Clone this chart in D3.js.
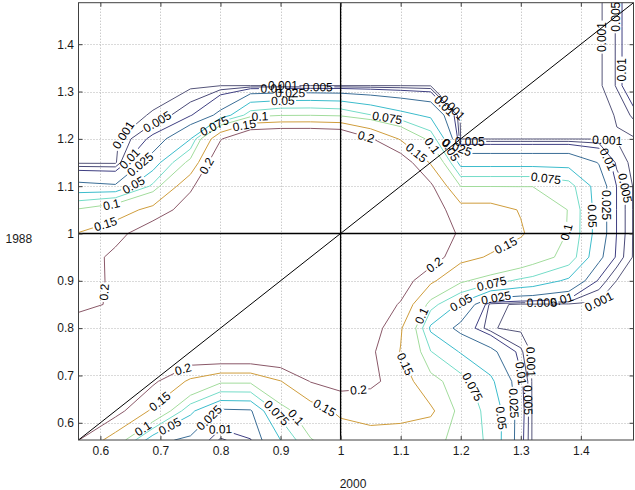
<!DOCTYPE html>
<html lang="en">
<head>
<meta charset="utf-8">
<title>Contours 2000 vs 1988</title>
<script src="https://d3js.org/d3.v7.min.js"></script>
<style>
  body { margin: 0; background: #fff; }
  svg { display: block; font-family: "Liberation Sans", Arial, sans-serif; }
</style>
</head>
<body>
<script>

// page + plot box
const width = 635;
const height = 490;
const plot = {left: 78.5, right: 633.5, top: 2.7, bottom: 440};

// contour levels and their line colours
const levels = [0.001, 0.005, 0.01, 0.025, 0.05, 0.075, 0.1, 0.15, 0.2];
const levelColors = ["#55557a", "#4a4a78", "#3f3f82", "#3a6d96", "#3cbccc", "#74dcc8", "#a2dc9c", "#cf9d3c", "#8a5868"];

// ticks
const xTicks = [0.6, 0.7, 0.8, 0.9, 1.0, 1.1, 1.2, 1.3, 1.4];
const xTickLabels = ["0.6", "0.7", "0.8", "0.9", "1", "1.1", "1.2", "1.3", "1.4"];
const yTicks = [0.6, 0.7, 0.8, 0.9, 1.0, 1.1, 1.2, 1.3, 1.4];
const yTickLabels = ["0.6", "0.7", "0.8", "0.9", "1", "1.1", "1.2", "1.3", "1.4"];

// grid nodes (x = 2000, y = 1988)
const xNodes = [0.5636, 0.625, 0.6875, 0.75, 0.8, 0.85, 0.9, 0.95, 1.0, 1.05, 1.1, 1.15, 1.2, 1.25, 1.3, 1.32, 1.38, 1.43, 1.46, 1.4877];
const yNodes = [0.5636, 0.625, 0.6875, 0.75, 0.8, 0.85, 0.9, 0.95, 1.0, 1.05, 1.1, 1.15, 1.2, 1.25, 1.3125, 1.375, 1.4375, 1.4877];

// estimated surface values, one row per y node (bottom row first)
const grid = [
  [0.201, 0.125, 0.032, 0.02, 0.004, 0.0095, 0.05, 0.098, 0.12, 0.13, 0.13, 0.11, 0.09, 0.07, 0.013, 0, 0, 0, 0, 0],
  [0.23, 0.22, 0.14, 0.055, 0.02, 0.022, 0.085, 0.125, 0.16, 0.17, 0.165, 0.16, 0.085, 0.07, 0.014, 0, 0, 0, 0, 0],
  [0.25, 0.24, 0.21, 0.14, 0.105, 0.105, 0.148, 0.202, 0.22, 0.21, 0.18, 0.11, 0.085, 0.055, 0.012, 0, 0, 0, 0, 0],
  [0.25, 0.25, 0.26, 0.25, 0.265, 0.265, 0.26, 0.26, 0.25, 0.21, 0.148, 0.076, 0.048, 0.03, 0.006, 0, 0, 0, 0, 0],
  [0.22, 0.23, 0.25, 0.27, 0.28, 0.28, 0.28, 0.28, 0.27, 0.23, 0.155, 0.045, 0.018, 0.0013, 0, 0, 0, 0, 0, 0],
  [0.19, 0.205, 0.25, 0.28, 0.29, 0.29, 0.29, 0.29, 0.28, 0.24, 0.195, 0.085, 0.045, 0.0025, 0, 0, 0, 0, 0, 0],
  [0.149, 0.22, 0.25, 0.28, 0.29, 0.3, 0.3, 0.3, 0.29, 0.28, 0.23, 0.16, 0.105, 0.085, 0.07, 0.066, 0.045, 0.008, 0.0008, 0.0005],
  [0.165, 0.215, 0.25, 0.28, 0.29, 0.3, 0.3, 0.3, 0.3, 0.3, 0.28, 0.23, 0.165, 0.145, 0.125, 0.115, 0.09, 0.03, 0.008, 0.0005],
  [0.152, 0.18, 0.24, 0.27, 0.29, 0.3, 0.3, 0.3, 0.3, 0.3, 0.29, 0.25, 0.19, 0.175, 0.155, 0.14, 0.097, 0.037, 0.0095, 0.0005],
  [0.103, 0.125, 0.165, 0.23, 0.28, 0.29, 0.3, 0.3, 0.3, 0.3, 0.28, 0.23, 0.17, 0.17, 0.147, 0.145, 0.098, 0.037, 0.0095, 0.0005],
  [0.03, 0.027, 0.08, 0.19, 0.27, 0.28, 0.29, 0.29, 0.29, 0.29, 0.26, 0.21, 0.099, 0.099, 0.099, 0.099, 0.085, 0.037, 0.0095, 0.0005],
  [0, 0, 0.035, 0.11, 0.26, 0.28, 0.28, 0.28, 0.28, 0.28, 0.235, 0.145, 0.04, 0.04, 0.04, 0.04, 0.04, 0.024, 0.003, 0],
  [0, 0, 0.012, 0.049, 0.195, 0.27, 0.28, 0.28, 0.27, 0.205, 0.145, 0.09, 0.0008, 0.0008, 0.0008, 0.0008, 0.0008, 0.0008, 0.0008, 0.0005],
  [0, 0, 0.0012, 0.009, 0.03, 0.088, 0.098, 0.099, 0.095, 0.076, 0.058, 0.045, 0, 0, 0, 0, 0, 0, 0.0012, 0.006],
  [0, 0, 0, 0, 0.0009, 0.0009, 0.0009, 0.0009, 0.0009, 0.0009, 0.0009, 0.0006, 0, 0, 0, 0, 0, 0, 0.0055, 0.02],
  [0, 0, 0, 0, 0, 0, 0, 0, 0, 0, 0, 0, 0, 0, 0, 0, 0, 0, 0.0055, 0.02],
  [0, 0, 0, 0, 0, 0, 0, 0, 0, 0, 0, 0, 0, 0, 0, 0, 0, 0, 0.0055, 0.02],
  [0, 0, 0, 0, 0, 0, 0, 0, 0, 0, 0, 0, 0, 0, 0, 0, 0, 0, 0.0055, 0.02]
];

// where the inline labels sit: [level, x, y], snapped onto the nearest contour
const labelSpots = [
  [0.001, 0.638, 1.208], [0.005, 0.691, 1.246], [0.01, 0.636, 1.172], [0.025, 0.663, 1.151],
  [0.05, 0.649, 1.113], [0.1, 0.619, 1.056], [0.15, 0.608, 1.022], [0.075, 0.789, 1.229],
  [0.2, 0.774, 1.145], [0.001, 0.904, 1.318], [0.005, 0.962, 1.305], [0.01, 0.886, 1.301],
  [0.025, 0.916, 1.288], [0.05, 0.904, 1.267], [0.1, 0.866, 1.242], [0.15, 0.841, 1.223],
  [0.075, 1.077, 1.240], [0.2, 1.041, 1.198], [0.001, 1.182, 1.261], [0.01, 1.166, 1.261],
  [0.005, 1.215, 1.189], [0.025, 1.185, 1.176], [0.05, 1.169, 1.166], [0.1, 1.141, 1.176],
  [0.15, 1.121, 1.162], [0.075, 1.340, 1.098], [0.001, 1.442, 1.174], [0.01, 1.424, 1.134],
  [0.005, 1.467, 1.096], [0.025, 1.434, 1.060], [0.05, 1.410, 1.037], [0.1, 1.379, 1.003],
  [0.001, 1.437, 1.415], [0.005, 1.470, 1.458], [0.01, 1.460, 1.346], [0.2, 0.606, 0.876],
  [0.2, 0.741, 0.705], [0.15, 0.704, 0.637], [0.1, 0.674, 0.582], [0.05, 0.721, 0.580],
  [0.025, 0.783, 0.608], [0.01, 0.799, 0.589], [0.075, 0.891, 0.619], [0.1, 0.926, 0.612],
  [0.15, 0.971, 0.625], [0.2, 1.031, 0.652], [0.2, 1.159, 0.929], [0.15, 1.279, 0.965],
  [0.1, 1.132, 0.828], [0.15, 1.104, 0.722], [0.075, 1.252, 0.889], [0.05, 1.199, 0.859],
  [0.025, 1.259, 0.859], [0.005, 1.335, 0.853], [0.01, 1.368, 0.859], [0.001, 1.432, 0.853],
  [0.075, 1.229, 0.680], [0.05, 1.262, 0.610], [0.025, 1.295, 0.642], [0.005, 1.315, 0.648],
  [0.001, 1.303, 0.728], [0.01, 1.311, 0.707]
];

//SVG
const svg = d3.select("body")
    .append("svg")
    .attr("width", width)
    .attr("height", height);

//Scales
const xScale = d3.scaleLinear()
    .domain([xNodes[0], xNodes[xNodes.length - 1]])
    .range([plot.left, plot.right]);
const yScale = d3.scaleLinear()
    .domain([yNodes[0], yNodes[yNodes.length - 1]])
    .range([plot.bottom, plot.top]);

// grid index -> data value (the grid is not evenly spaced)
const xIndex = d3.scaleLinear().domain(d3.range(xNodes.length)).range(xNodes);
const yIndex = d3.scaleLinear().domain(d3.range(yNodes.length)).range(yNodes);
const toPx = p => [xScale(xIndex(p[0] - 0.5)), yScale(yIndex(p[1] - 0.5))];

const defs = svg.append("defs");
defs.append("clipPath").attr("id", "plotClip")
    .append("rect")
    .attr("x", plot.left).attr("y", plot.top)
    .attr("width", plot.right - plot.left).attr("height", plot.bottom - plot.top);

//Dotted grid
const gridG = svg.append("g")
    .attr("stroke", "#b4b4b4")
    .attr("stroke-width", 1)
    .attr("stroke-dasharray", "1,2");
gridG.selectAll(".gx").data(xTicks).enter().append("line")
    .attr("x1", d => Math.round(xScale(d)) + 0.5).attr("x2", d => Math.round(xScale(d)) + 0.5)
    .attr("y1", plot.top).attr("y2", plot.bottom);
gridG.selectAll(".gy").data(yTicks).enter().append("line")
    .attr("y1", d => Math.round(yScale(d)) + 0.5).attr("y2", d => Math.round(yScale(d)) + 0.5)
    .attr("x1", plot.left).attr("x2", plot.right);

//Contours
const contours = d3.contours()
    .size([xNodes.length, yNodes.length])
    .thresholds(levels)(grid.flat());

const ringsByLevel = contours.map(c => c.coordinates.flatMap(poly => poly.map(ring => ring.map(toPx))));

levels.forEach((lv, i) => {
    defs.append("mask").attr("id", "gap" + i)
        .attr("maskUnits", "userSpaceOnUse")
        .attr("x", 0).attr("y", 0).attr("width", width).attr("height", height)
        .append("rect").attr("width", width).attr("height", height).attr("fill", "white");
});

const contourG = svg.append("g").attr("clip-path", "url(#plotClip)");
ringsByLevel.forEach((rings, i) => {
    contourG.append("path")
        .attr("d", rings.map(r => "M" + r.map(q => q[0].toFixed(2) + "," + q[1].toFixed(2)).join("L") + "Z").join(""))
        .attr("fill", "none")
        .attr("stroke", levelColors[i])
        .attr("stroke-width", 1)
        .attr("mask", "url(#gap" + i + ")");
});

//Reference lines: x = 1, y = 1 and the diagonal
const lo = xNodes[0], hi = xNodes[xNodes.length - 1];
const refG = svg.append("g").attr("stroke", "#000").attr("clip-path", "url(#plotClip)");
refG.append("line")
    .attr("x1", xScale(1)).attr("x2", xScale(1)).attr("y1", plot.top).attr("y2", plot.bottom)
    .attr("stroke-width", 1.3);
refG.append("line")
    .attr("x1", plot.left).attr("x2", plot.right).attr("y1", yScale(1)).attr("y2", yScale(1))
    .attr("stroke-width", 1.3);
refG.append("line")
    .attr("x1", xScale(lo)).attr("y1", yScale(lo)).attr("x2", xScale(hi)).attr("y2", yScale(hi))
    .attr("stroke-width", 1);

//Labels on the contours
function inside(p) {
    return p[0] >= plot.left - 0.5 && p[0] <= plot.right + 0.5 && p[1] >= plot.top - 0.5 && p[1] <= plot.bottom + 0.5;
}
function snap(rings, hx, hy) {
    let best = null;
    rings.forEach(ring => {
        for (let k = 0; k < ring.length - 1; k++) {
            const a = ring[k], b = ring[k + 1];
            if (!inside(a) || !inside(b)) continue;
            const dx = b[0] - a[0], dy = b[1] - a[1];
            const len2 = dx * dx + dy * dy;
            let t = len2 ? ((hx - a[0]) * dx + (hy - a[1]) * dy) / len2 : 0;
            t = Math.max(0, Math.min(1, t));
            const px = a[0] + t * dx, py = a[1] + t * dy;
            const d = Math.hypot(px - hx, py - hy);
            if (!best || d < best.d) best = {d, px, py, ring, k};
        }
    });
    if (!best) return null;
    const r = best.ring;
    let back = [best.px, best.py], fwd = [best.px, best.py];
    let acc = 0, prev = back, j = best.k;
    while (acc < 9 && j >= 0) { acc += Math.hypot(r[j][0] - prev[0], r[j][1] - prev[1]); prev = back = r[j]; j--; }
    acc = 0; prev = [best.px, best.py]; j = best.k + 1;
    while (acc < 9 && j < r.length) { acc += Math.hypot(r[j][0] - prev[0], r[j][1] - prev[1]); prev = fwd = r[j]; j++; }
    let ang = Math.atan2(fwd[1] - back[1], fwd[0] - back[0]) * 180 / Math.PI;
    if (ang > 90) ang -= 180;
    if (ang < -90) ang += 180;
    return {x: best.px, y: best.py, ang};
}

const labelG = svg.append("g")
    .attr("font-size", 12)
    .attr("fill", "#000");
labelSpots.forEach(s => {
    const i = levels.indexOf(s[0]);
    const spot = snap(ringsByLevel[i], xScale(s[1]), yScale(s[2]));
    if (!spot) return;
    const t = labelG.append("text")
        .attr("transform", `translate(${spot.x},${spot.y}) rotate(${spot.ang})`)
        .attr("text-anchor", "middle")
        .attr("dy", "0.36em")
        .text(String(s[0]));
    const w = t.node().getComputedTextLength();
    d3.select("#gap" + i).append("rect")
        .attr("x", -w / 2 - 1.5).attr("y", -5.5)
        .attr("width", w + 3).attr("height", 11)
        .attr("fill", "black")
        .attr("transform", `translate(${spot.x},${spot.y}) rotate(${spot.ang})`);
});

//Axes
const tickColor = "#3c3c3c";
const bottomAxis = d3.axisBottom(xScale).tickValues(xTicks).tickFormat((d, i) => xTickLabels[i])
    .tickSizeInner(-4).tickSizeOuter(0).tickPadding(6);
const leftAxis = d3.axisLeft(yScale).tickValues(yTicks).tickFormat((d, i) => yTickLabels[i])
    .tickSizeInner(-4).tickSizeOuter(0).tickPadding(4.5);
const topAxis = d3.axisTop(xScale).tickValues(xTicks).tickFormat("").tickSizeInner(-4).tickSizeOuter(0);
const rightAxis = d3.axisRight(yScale).tickValues(yTicks).tickFormat("").tickSizeInner(-4).tickSizeOuter(0);

function styleAxis(g) {
    g.select(".domain").remove();
    g.selectAll(".tick line").attr("stroke", tickColor);
    g.attr("font-family", null).attr("font-size", 12);
    g.selectAll("text").attr("fill", "#1a1a1a");
}
svg.append("g").attr("transform", `translate(0,${plot.bottom})`).call(bottomAxis).call(styleAxis);
svg.append("g").attr("transform", `translate(${plot.left},0)`).call(leftAxis).call(styleAxis);
svg.append("g").attr("transform", `translate(0,${plot.top})`).call(topAxis).call(styleAxis);
svg.append("g").attr("transform", `translate(${plot.right},0)`).call(rightAxis).call(styleAxis);

// box
svg.append("rect")
    .attr("x", plot.left).attr("y", plot.top)
    .attr("width", plot.right - plot.left).attr("height", plot.bottom - plot.top)
    .attr("fill", "none").attr("stroke", "#404040").attr("stroke-width", 1);

// axis names
svg.append("text").attr("x", 5.5).attr("y", 242.5).attr("font-size", 12).attr("fill", "#1a1a1a").text("1988");
svg.append("text").attr("x", 353).attr("y", 488).attr("text-anchor", "middle").attr("font-size", 12).attr("fill", "#1a1a1a").text("2000");

</script>
</body>
</html>
